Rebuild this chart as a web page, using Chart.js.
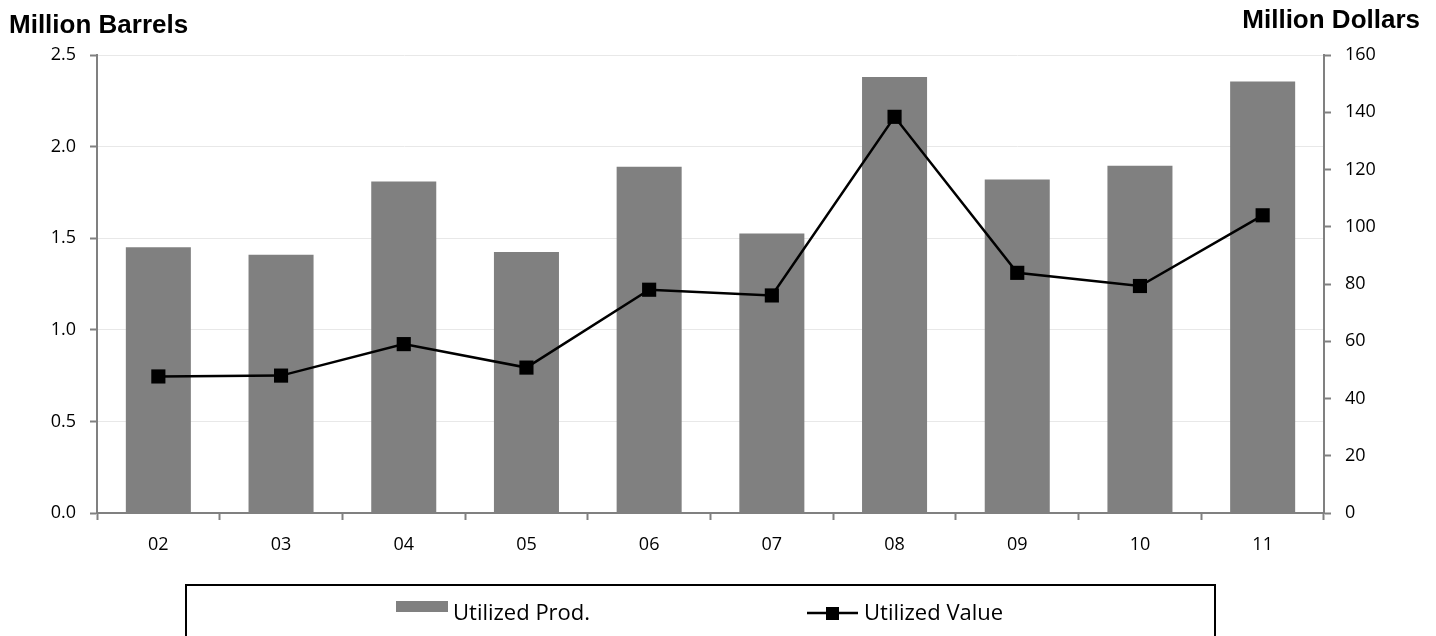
<!doctype html>
<html>
<head>
    <meta charset="utf-8">
    <title>Utilized Prod. / Utilized Value</title>
    <script src="https://cdn.jsdelivr.net/npm/chart.js"></script>
    <style>
        html, body { margin: 0; padding: 0; background: #fff; }
        #wrap { position: relative; width: 1436px; height: 636px; }
    </style>
</head>
<body>
<div id="wrap">
    <canvas id="myChart"></canvas>
</div>

<script>
    // years shown on the category axis
    var labels = ['02', '03', '04', '05', '06', '07', '08', '09', '10', '11'];
    // bars, left axis (million barrels)
    var prodValues = [1.45, 1.41, 1.81, 1.425, 1.89, 1.525, 2.38, 1.82, 1.895, 2.355];
    // line, right axis (million dollars)
    var valueValues = [47.7, 48.0, 59.0, 50.8, 78.0, 76.0, 138.4, 83.9, 79.3, 104.0];

    var leftTicks = [0, 0.5, 1.0, 1.5, 2.0, 2.5];
    var rightTicks = [0, 20, 40, 60, 80, 100, 120, 140, 160];

    var axisGray = '#808080';
    var tickFont = { family: 'Open Sans', size: 18 };

    // titles + boxed legend drawn on the canvas
    var extras = {
        id: 'extras',
        afterDraw: function (chart) {
            var ctx = chart.ctx;
            ctx.save();
            ctx.fillStyle = '#000';
            ctx.font = 'bold 26px "Liberation Sans", Arial, sans-serif';
            ctx.textBaseline = 'alphabetic';
            ctx.textAlign = 'left';
            ctx.fillText('Million Barrels', 9, 33);
            ctx.textAlign = 'right';
            ctx.fillText('Million Dollars', 1420, 28);

            // legend box
            ctx.strokeStyle = '#000';
            ctx.lineWidth = 2;
            ctx.strokeRect(186, 585, 1029, 60);

            var bar = chart.data.datasets[1];
            var line = chart.data.datasets[0];
            ctx.font = '22px "Open Sans", sans-serif';
            ctx.textAlign = 'left';

            ctx.fillStyle = bar.backgroundColor;
            ctx.fillRect(396, 601, 52, 11);
            ctx.fillStyle = '#000';
            ctx.fillText(bar.label, 453, 620);

            ctx.strokeStyle = line.borderColor;
            ctx.lineWidth = 2.5;
            ctx.beginPath();
            ctx.moveTo(807, 613);
            ctx.lineTo(858, 613);
            ctx.stroke();
            ctx.fillStyle = line.pointBackgroundColor;
            ctx.fillRect(826, 607, 13, 13);
            ctx.fillStyle = '#000';
            ctx.fillText(line.label, 864, 620);
            ctx.restore();
        }
    };

    var casesChart = new Chart(document.getElementById('myChart'), {
        data: {
            labels: labels,
            datasets: [{
                type: 'line',
                label: 'Utilized Value',
                data: valueValues,
                yAxisID: 'y1',
                borderColor: '#000',
                borderWidth: 2.5,
                pointStyle: 'rect',
                pointRadius: 10,
                pointBorderWidth: 0,
                pointBackgroundColor: '#000',
                pointBorderColor: '#000',
                tension: 0,
                order: 1
            }, {
                type: 'bar',
                label: 'Utilized Prod.',
                data: prodValues,
                yAxisID: 'y',
                backgroundColor: '#808080',
                borderWidth: 0,
                categoryPercentage: 1.0,
                barPercentage: 0.53,
                order: 2
            }]
        },
        options: {
            responsive: true,
            maintainAspectRatio: false,
            animation: false,
            layout: { padding: { top: 55, left: 0, right: 0, bottom: 0 } },
            plugins: {
                legend: { display: false },
                tooltip: { enabled: false }
            },
            scales: {
                x: {
                    offset: true,
                    grid: {
                        offset: true,
                        drawOnChartArea: false,
                        drawTicks: true,
                        tickLength: 7,
                        tickColor: axisGray,
                        tickWidth: 2
                    },
                    border: { color: axisGray, width: 2 },
                    ticks: { color: '#000', font: tickFont, padding: 14, maxRotation: 0 },
                    afterFit: function (scale) { scale.height = 123; }
                },
                y: {
                    position: 'left',
                    min: 0,
                    max: 2.5,
                    afterBuildTicks: function (scale) {
                        scale.ticks = leftTicks.map(function (v) { return { value: v }; });
                    },
                    grid: {
                        color: '#e8e8e8',
                        lineWidth: 1,
                        tickLength: 7,
                        tickColor: axisGray,
                        tickWidth: 2
                    },
                    border: { color: axisGray, width: 2 },
                    ticks: {
                        color: '#000',
                        font: tickFont,
                        padding: 14,
                        callback: function (v) { return Number(v).toFixed(1); }
                    },
                    afterFit: function (scale) { scale.width = 97; }
                },
                y1: {
                    position: 'right',
                    min: 0,
                    max: 160,
                    afterBuildTicks: function (scale) {
                        scale.ticks = rightTicks.map(function (v) { return { value: v }; });
                    },
                    grid: {
                        drawOnChartArea: false,
                        tickLength: 7,
                        tickColor: axisGray,
                        tickWidth: 2
                    },
                    border: { color: axisGray, width: 2 },
                    ticks: { color: '#000', font: tickFont, padding: 14 },
                    afterFit: function (scale) { scale.width = 112; }
                }
            }
        },
        plugins: [extras]
    });
</script>
</body>
</html>
